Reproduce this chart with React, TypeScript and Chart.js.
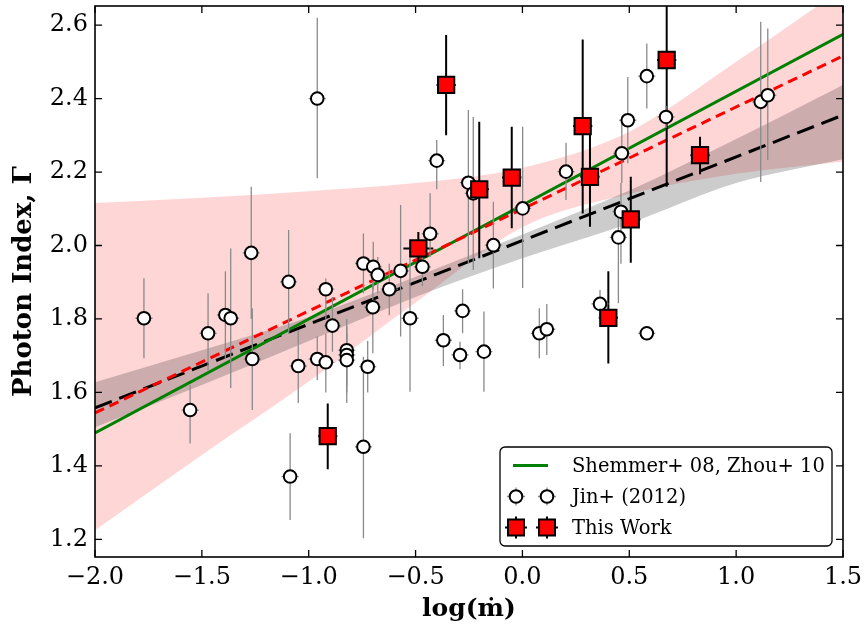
import React, { useEffect, useRef } from 'react';
import { Chart, registerables } from 'chart.js';
Chart.register(...registerables);

// ---- axis ticks ----
const xTicks = [-2.0, -1.5, -1.0, -0.5, 0.0, 0.5, 1.0, 1.5];
const yTicks = [1.2, 1.4, 1.6, 1.8, 2.0, 2.2, 2.4, 2.6];

// ---- Jin+ (2012) points ----
const jinX = [-1.771, -1.555, -1.471, -1.390, -1.365, -1.269, -1.264, -1.094, -1.087, -1.049, -0.960, -0.960, -0.920, -0.920, -0.889, -0.822, -0.822, -0.822, -0.744, -0.744, -0.724, -0.700, -0.698, -0.677, -0.623, -0.570, -0.526, -0.468, -0.432, -0.401, -0.370, -0.292, -0.280, -0.253, -0.230, -0.180, -0.136, 0.001, 0.079, 0.114, 0.204, 0.363, 0.449, 0.461, 0.465, 0.493, 0.582, 0.582, 0.672, 1.115, 1.148];
const jinY = [1.802, 1.552, 1.761, 1.811, 1.802, 1.980, 1.691, 1.901, 1.371, 1.672, 2.400, 1.691, 1.881, 1.682, 1.782, 1.715, 1.702, 1.688, 1.951, 1.452, 1.670, 1.832, 1.942, 1.920, 1.881, 1.931, 1.802, 1.942, 2.032, 2.231, 1.742, 1.702, 1.822, 2.171, 2.142, 1.711, 2.001, 2.101, 1.761, 1.772, 2.201, 1.841, 2.022, 2.092, 2.251, 2.341, 2.461, 1.761, 2.350, 2.391, 2.409];
const jinHi = [1.911, 1.620, 1.870, 1.930, 1.992, 2.160, 1.829, 2.042, 1.489, 1.770, 2.620, 1.752, 1.910, 1.760, 1.860, 1.800, 1.780, 1.760, 2.033, 1.697, 1.740, 1.900, 2.010, 1.969, 1.950, 2.110, 2.000, 1.990, 2.142, 2.287, 1.811, 1.738, 1.881, 2.369, 2.350, 1.820, 2.119, 2.323, 1.829, 1.841, 2.280, 1.879, 2.080, 2.170, 2.337, 2.459, 2.550, 1.780, 2.380, 2.609, 2.591];
const jinLo = [1.693, 1.461, 1.660, 1.690, 1.612, 1.800, 1.552, 1.760, 1.253, 1.571, 2.183, 1.634, 1.800, 1.600, 1.711, 1.620, 1.600, 1.571, 1.870, 1.203, 1.600, 1.707, 1.880, 1.870, 1.810, 1.752, 1.602, 1.890, 1.969, 2.153, 1.672, 1.663, 1.761, 1.951, 1.933, 1.602, 1.883, 1.884, 1.693, 1.702, 2.124, 1.797, 1.843, 1.950, 2.170, 2.224, 2.373, 1.742, 2.320, 2.173, 2.233];
const jinXErr = 0.04;

// ---- This Work points ----
const workX = [-0.911, -0.487, -0.357, -0.202, -0.050, 0.282, 0.316, 0.402, 0.507, 0.675, 0.831];
const workY = [1.481, 1.992, 2.437, 2.153, 2.185, 2.325, 2.187, 1.803, 2.071, 2.505, 2.246];
const workHi = [1.570, 2.037, 2.573, 2.337, 2.323, 2.561, 2.323, 1.930, 2.187, 2.700, 2.296];
const workLo = [1.391, 1.945, 2.300, 1.965, 2.047, 2.087, 2.051, 1.679, 1.953, 2.160, 2.194];
const workXErr = [0.045, 0.070, 0.045, 0.045, 0.045, 0.045, 0.045, 0.045, 0.045, 0.045, 0.045];

// ---- fit lines ----
const fitX = [-2.0, 1.5];
const shemmerY = [1.490, 2.575];
const workFitY = [1.544, 2.516];
const jinFitY = [1.558, 2.355];

// ---- confidence bands ----
const bandX = [-2.0, -1.5, -1.0, -0.5, 0.0, 0.5, 1.0, 1.5];
const workBandHi = [2.116, 2.130, 2.148, 2.170, 2.212, 2.310, 2.500, 2.700];
const workBandLo = [1.225, 1.430, 1.630, 1.845, 2.050, 2.140, 2.195, 2.228];
const jinBandHi = [1.628, 1.715, 1.805, 1.915, 2.030, 2.150, 2.290, 2.437];
const jinBandLo = [1.505, 1.620, 1.740, 1.860, 1.965, 2.060, 2.170, 2.235];

const legendLabels = ['Shemmer+ 08, Zhou+ 10', 'Jin+ (2012)', 'This Work'];

const FONT = '"DejaVu Serif", "Liberation Serif", serif';
const fmt = (v: number) => v.toFixed(1).replace('-', '\u2212');
const pts = (xs: number[], ys: number[]) => xs.map((x, i) => ({ x, y: ys[i] }));

export default function App() {
  const ref = useRef<HTMLCanvasElement>(null);

  useEffect(() => {
    document.body.style.margin = '0';
    const canvas = ref.current!;

    const jinErr = jinX.map((x, i) => ({ x, y: jinY[i], hi: jinHi[i], lo: jinLo[i], xe: jinXErr }));
    const workErr = workX.map((x, i) => ({ x, y: workY[i], hi: workHi[i], lo: workLo[i], xe: workXErr[i] }));

    const errorBars = {
      id: 'errorBars',
      beforeDatasetDraw(chart: any, args: any) {
        const ds: any = chart.data.datasets[args.index];
        if (!ds.drawErrorBars) return;
        const { ctx, chartArea: a } = chart;
        const sx = chart.scales.x, sy = chart.scales.y;
        ctx.save();
        ctx.beginPath();
        ctx.rect(a.left, a.top, a.right - a.left, a.bottom - a.top);
        ctx.clip();
        const draw = (items: any[], color: string, width: number) => {
          ctx.strokeStyle = color;
          ctx.lineWidth = width;
          items.forEach((e) => {
            const px = sx.getPixelForValue(e.x);
            const py = sy.getPixelForValue(e.y);
            ctx.beginPath();
            ctx.moveTo(px, sy.getPixelForValue(e.hi));
            ctx.lineTo(px, sy.getPixelForValue(e.lo));
            ctx.moveTo(sx.getPixelForValue(e.x - e.xe), py);
            ctx.lineTo(sx.getPixelForValue(e.x + e.xe), py);
            ctx.stroke();
          });
        };
        draw(workErr, '#000000', 2);
        draw(jinErr, '#8a8a8a', 1.3);
        ctx.restore();
      },
    };

    const frame = {
      id: 'frame',
      afterDatasetsDraw(chart: any) {
        const { ctx, chartArea: a } = chart;
        const sx = chart.scales.x, sy = chart.scales.y;
        ctx.save();
        ctx.strokeStyle = '#000';
        ctx.lineWidth = 1.3;
        const tl = 7;
        ctx.beginPath();
        xTicks.forEach((v) => {
          const p = sx.getPixelForValue(v);
          ctx.moveTo(p, a.bottom); ctx.lineTo(p, a.bottom - tl);
          ctx.moveTo(p, a.top); ctx.lineTo(p, a.top + tl);
        });
        yTicks.forEach((v) => {
          const p = sy.getPixelForValue(v);
          ctx.moveTo(a.left, p); ctx.lineTo(a.left + tl, p);
          ctx.moveTo(a.right, p); ctx.lineTo(a.right - tl, p);
        });
        ctx.stroke();
        ctx.lineWidth = 1.6;
        ctx.strokeRect(a.left, a.top, a.right - a.left, a.bottom - a.top);
        ctx.restore();
      },
    };

    const legendBox = {
      id: 'legendBox',
      afterDraw(chart: any) {
        const { ctx, chartArea: a } = chart;
        const w = 332, h = 99;
        const L = a.right - 11 - w, T = a.bottom - 11 - h;
        ctx.save();
        ctx.beginPath();
        (ctx as any).roundRect(L, T, w, h, 5);
        ctx.fillStyle = '#ffffff';
        ctx.fill();
        ctx.lineWidth = 1.3;
        ctx.strokeStyle = '#000';
        ctx.stroke();
        const rows = [T + 18.5, T + 49.5, T + 80.5];
        ctx.strokeStyle = '#008000';
        ctx.lineWidth = 3;
        ctx.beginPath();
        ctx.moveTo(L + 13, rows[0]);
        ctx.lineTo(L + 48, rows[0]);
        ctx.stroke();
        [L + 16, L + 47].forEach((mx) => {
          ctx.strokeStyle = '#8a8a8a';
          ctx.lineWidth = 1.3;
          ctx.beginPath();
          ctx.moveTo(mx, rows[1] - 9); ctx.lineTo(mx, rows[1] + 9);
          ctx.moveTo(mx - 9, rows[1]); ctx.lineTo(mx + 9, rows[1]);
          ctx.stroke();
          ctx.beginPath();
          ctx.arc(mx, rows[1], 6.3, 0, Math.PI * 2);
          ctx.fillStyle = '#fff';
          ctx.fill();
          ctx.strokeStyle = '#000';
          ctx.lineWidth = 2;
          ctx.stroke();
          ctx.beginPath();
          ctx.moveTo(mx, rows[2] - 11); ctx.lineTo(mx, rows[2] + 11);
          ctx.moveTo(mx - 11, rows[2]); ctx.lineTo(mx + 11, rows[2]);
          ctx.stroke();
          ctx.fillStyle = '#ff0000';
          ctx.fillRect(mx - 8, rows[2] - 8, 16, 16);
          ctx.strokeRect(mx - 8, rows[2] - 8, 16, 16);
        });
        ctx.fillStyle = '#000';
        ctx.font = `19.5px ${FONT}`;
        ctx.textBaseline = 'middle';
        ctx.textAlign = 'left';
        legendLabels.forEach((t, i) => ctx.fillText(t, L + 72, rows[i] + 1));
        ctx.restore();
      },
    };

    const chart = new Chart(canvas, {
      type: 'scatter',
      data: {
        datasets: [
          {
            type: 'line', data: pts(bandX, workBandHi), borderWidth: 0, pointRadius: 0,
            backgroundColor: 'rgba(255,0,0,0.16)', fill: '+1', cubicInterpolationMode: 'monotone', order: 10,
          },
          {
            type: 'line', data: pts(bandX, workBandLo), borderWidth: 0, pointRadius: 0,
            fill: false, cubicInterpolationMode: 'monotone', order: 10,
          },
          {
            type: 'line', data: pts(bandX, jinBandHi), borderWidth: 0, pointRadius: 0,
            backgroundColor: 'rgba(0,0,0,0.2)', fill: '+1', cubicInterpolationMode: 'monotone', order: 9,
          },
          {
            type: 'line', data: pts(bandX, jinBandLo), borderWidth: 0, pointRadius: 0,
            fill: false, cubicInterpolationMode: 'monotone', order: 9,
          },
          {
            type: 'line', data: pts(fitX, jinFitY), borderColor: '#000', borderWidth: 3,
            borderDash: [18, 8], pointRadius: 0, fill: false, order: 7,
          },
          {
            type: 'line', data: pts(fitX, shemmerY), borderColor: '#008000', borderWidth: 3,
            pointRadius: 0, fill: false, order: 6,
          },
          {
            type: 'line', data: pts(fitX, workFitY), borderColor: '#ff0000', borderWidth: 3,
            borderDash: [10, 6], pointRadius: 0, fill: false, order: 5,
          },
          {
            data: pts(jinX, jinY), pointRadius: 6.3, pointBackgroundColor: '#ffffff',
            pointBorderColor: '#000000', pointBorderWidth: 2, showLine: false, order: 2,
            drawErrorBars: true,
          } as any,
          {
            data: pts(workX, workY), pointStyle: 'rect', pointRadius: 11.5, pointBackgroundColor: '#ff0000',
            pointBorderColor: '#000000', pointBorderWidth: 2, showLine: false, order: 1,
          },
        ],
      },
      options: {
        animation: false,
        responsive: false,
        maintainAspectRatio: false,
        events: [],
        layout: { autoPadding: false, padding: { top: 6, right: 23, left: 0, bottom: 0 } },
        plugins: { legend: { display: false }, tooltip: { enabled: false } },
        scales: {
          x: {
            type: 'linear', min: -2.0, max: 1.5,
            afterFit: (s: any) => { s.height = 72; s.paddingLeft = 0; s.paddingRight = 0; },
            afterBuildTicks: (s: any) => { s.ticks = xTicks.map((v) => ({ value: v })); },
            grid: { display: false, drawTicks: false },
            border: { display: false },
            ticks: {
              autoSkip: false, maxRotation: 0, padding: 6, color: '#000',
              font: { family: FONT, size: 24 },
              callback: (v: any) => fmt(Number(v)),
            },
            title: {
              display: true, text: 'log(\u1E41)', color: '#000',
              font: { family: FONT, size: 25, weight: 'bold', lineHeight: 1.2 },
              padding: { top: 0, bottom: 5 },
            },
          },
          y: {
            type: 'linear', min: 1.152, max: 2.652,
            afterFit: (s: any) => { s.width = 95; s.paddingTop = 0; s.paddingBottom = 0; },
            afterBuildTicks: (s: any) => { s.ticks = yTicks.map((v) => ({ value: v })); },
            grid: { display: false, drawTicks: false },
            border: { display: false },
            ticks: {
              autoSkip: false, padding: 7, color: '#000',
              font: { family: FONT, size: 24 },
              callback: (v: any) => fmt(Number(v)),
            },
            title: {
              display: true, text: 'Photon Index, \u0393', color: '#000',
              font: { family: FONT, size: 26, weight: 'bold', lineHeight: 1.2 },
              padding: { top: 9, bottom: 0 },
            },
          },
        },
      } as any,
      plugins: [errorBars, frame, legendBox],
    });

    return () => chart.destroy();
  }, []);

  return <canvas ref={ref} width={866} height={629} style={{ display: 'block' }} />;
}
